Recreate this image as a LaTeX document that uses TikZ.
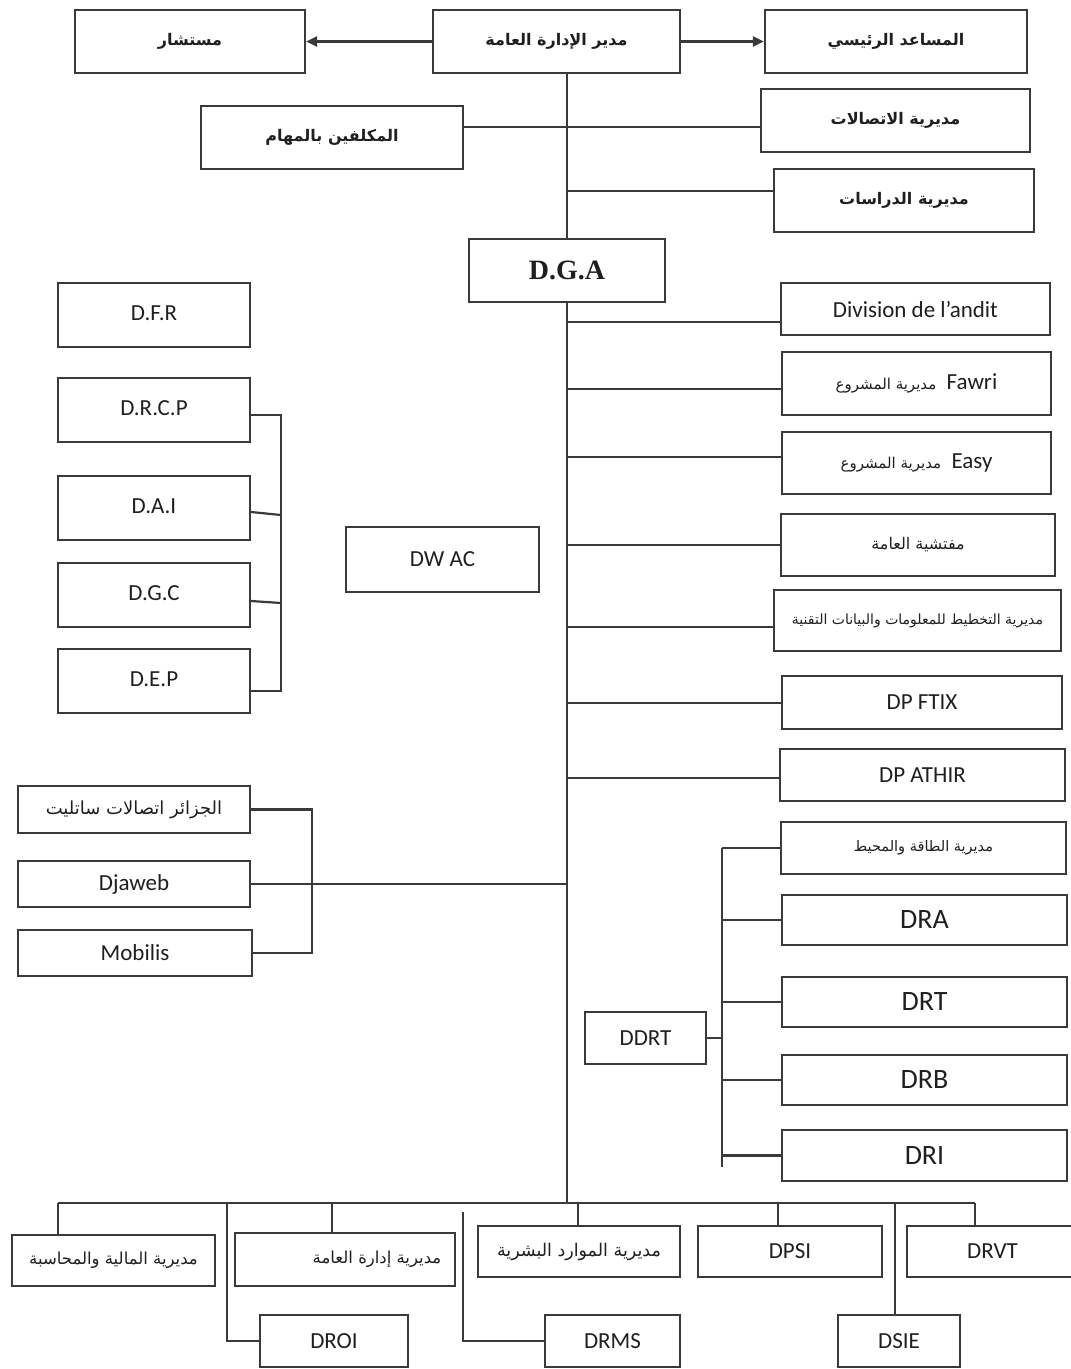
\documentclass[tikz,border=0pt]{standalone}
\usepackage{fontspec}
\usetikzlibrary{arrows.meta}
\setmainfont{Carlito}
\newfontfamily\arabicfont[Script=Arabic]{DejaVu Sans}
\newfontfamily\timesfont{Liberation Serif}
\TeXXeTstate=1
\newcommand\arb[1]{{\arabicfont\beginR #1\endR}}
\newcommand\bx[7][]{\node[box,#1,minimum width={#4-#2},minimum height={#6-#3}] (#5) at ({(#2+#4)/2},{(#3+#6)/2}) {#7};}
\definecolor{lc}{HTML}{3A3A3A}
\begin{document}
\begin{tikzpicture}[x=1pt,y=-1pt,
  box/.style={draw=lc,line width=2.2pt,inner sep=0pt,align=center,text=black!88},
  ln/.style={draw=lc,line width=2.2pt},
  arr/.style={ln,-{Triangle[length=11pt,width=10pt]}},
  latm/.style={font=\fontsize{23}{26}\selectfont},
  latb/.style={font=\fontsize{28}{30}\selectfont},
  arbig/.style={font=\fontsize{16}{20}\selectfont\bfseries},
  arsm/.style={font=\fontsize{16.5}{20}\selectfont},
  arxs/.style={font=\fontsize{14}{16}\selectfont}]
\useasboundingbox (0,0) rectangle (1071,1369);
% columns
\coordinate (trk) at (567,0);
\coordinate (bar) at (0,1203);
% top
\bx[arbig]{75}{10}{305}{mus}{73}{\arb{مستشار}}
\bx[arbig]{433}{10}{680}{dir}{73}{\arb{مدير الإدارة العامة}}
\bx[arbig]{765}{10}{1027}{asst}{73}{\arb{المساعد الرئيسي}}
\bx[arbig]{201}{106}{463}{mukal}{169}{\arb{المكلفين بالمهام}}
\bx[arbig]{761}{89}{1030}{comm}{152}{\arb{مديرية الاتصالات}}
\bx[arbig]{774}{169}{1034}{etud}{232}{\arb{مديرية الدراسات}}
\bx[font=\timesfont\bfseries\fontsize{28}{30}\selectfont]{469}{239}{665}{dga}{302}{D.G.A}
% left column
\bx[latm]{58}{283}{250}{dfr}{347}{\raisebox{4pt}{D.F.R}}
\bx[latm]{58}{378}{250}{drcp}{442}{\raisebox{4pt}{D.R.C.P}}
\bx[latm]{58}{476}{250}{dai}{540}{\raisebox{4pt}{D.A.I}}
\bx[latm]{58}{563}{250}{dgc}{627}{\raisebox{4pt}{D.G.C}}
\bx[latm]{58}{649}{250}{dep}{713}{\raisebox{4pt}{D.E.P}}
\bx[latm]{346}{527}{539}{dwac}{592}{DW AC}
\bx[font=\fontsize{18}{20}\selectfont]{18}{786}{250}{sat}{833}{\arb{الجزائر اتصالات ساتليت}}
\bx[latm]{18}{861}{250}{dja}{907}{Djaweb}
\bx[latm]{18}{930}{252}{mob}{976}{Mobilis}
% right column
\bx[latm]{781}{283}{1050}{div}{335}{Division de l’andit}
\bx[latm]{782}{352}{1051}{fawri}{415}{{\arabicfont\fontsize{15}{18}\selectfont\beginR مديرية المشروع\endR}\ \ Fawri}
\bx[latm]{782}{432}{1051}{easy}{494}{{\arabicfont\fontsize{15}{18}\selectfont\beginR مديرية المشروع\endR}\ \ Easy}
\bx[font=\fontsize{16}{18}\selectfont]{781}{514}{1055}{mufat}{576}{\arb{مفتشية العامة}}
\bx[arxs]{774}{590}{1061}{takh}{651}{\arb{مديرية التخطيط للمعلومات والبيانات التقنية}}
\bx[latm]{782}{676}{1062}{ftix}{729}{DP FTIX}
\bx[latm]{780}{749}{1065}{athir}{801}{DP ATHIR}
\bx[font=\fontsize{14.5}{17}\selectfont]{781}{822}{1066}{ene}{874}{\arb{مديرية الطاقة والمحيط}}
\bx[latb]{782}{895}{1067}{dra}{945}{\raisebox{-4pt}{DRA}}
\bx[latb]{782}{977}{1067}{drt}{1027}{\raisebox{-4pt}{DRT}}
\bx[latb]{782}{1055}{1067}{drb}{1105}{\raisebox{-4pt}{DRB}}
\bx[latb]{782}{1130}{1067}{dri}{1181}{\raisebox{-4pt}{DRI}}
\bx[latm]{585}{1012}{706}{ddrt}{1064}{DDRT}
% bottom
\bx[arsm]{12}{1235}{215}{fin}{1286}{\arb{مديرية المالية والمحاسبة}}
\bx[arsm]{235}{1233}{455}{idara}{1286}{\hspace*{64pt}\arb{مديرية إدارة العامة}}
\bx[font=\fontsize{17.5}{20}\selectfont]{478}{1226}{680}{rh}{1277}{\arb{مديرية الموارد البشرية}}
\bx[latm]{698}{1226}{882}{dpsi}{1277}{DPSI}
\bx[latm]{907}{1226}{1078}{drvt}{1277}{DRVT}
\bx[latm]{260}{1315}{408}{droi}{1367}{DROI}
\bx[latm]{545}{1315}{680}{drms}{1367}{DRMS}
\bx[latm]{838}{1315}{960}{dsie}{1367}{DSIE}
% helper coordinates
\coordinate (c127) at (0,127);
\coordinate (c191) at (0,191);
\coordinate (x312) at (312,0);
\coordinate (x281) at (281,0);
\coordinate (x722) at (722,0);
\coordinate (x58) at (58,0);
\coordinate (x227) at (227,0);
\coordinate (x332) at (332,0);
\coordinate (x463) at (463,0);
\coordinate (x578) at (578,0);
\coordinate (x778) at (778,0);
\coordinate (x895) at (895,0);
\coordinate (x975) at (975,0);
% connectors top
\draw[arr] (dir.west) -- (mus.east);
\draw[arr] (dir.east) -- (asst.west);
\draw[ln] (trk |- dir.south) -- (trk |- dga.north);
\draw[ln] (mukal.east |- c127) -- (comm.west |- c127);
\draw[ln] (trk |- c191) -- (etud.west |- c191);
% right branches
\draw[ln] (trk |- dga.south) -- (trk |- bar);
\foreach \n/\yy in {div/322,fawri/389,easy/457,mufat/545,takh/627,ftix/703,athir/778}
  \draw[ln] (trk |- 0,\yy) -- (\n.west |- 0,\yy);
% left bracket (D.R.C.P group)
\draw[ln] (drcp.east |- 0,415) -| (x281 |- 0,691) -- (dep.east |- 0,691);
\draw[ln] (dai.east |- 0,512) -- (x281 |- 0,515);
\draw[ln] (dgc.east |- 0,601) -- (x281 |- 0,603);
% satellites group
\draw[ln] (sat.east) -| (x312 |- mob.east) -- (mob.east);
\draw[ln] (dja.east) -- (trk |- dja.east);
% DDRT group
\draw[ln] (ddrt.east) -- (x722 |- ddrt.east);
\draw[ln] (x722 |- ene.west) -- (x722 |- 0,1167);
\foreach \n in {ene,dra,drt,drb,dri}
  \draw[ln] (x722 |- \n.west) -- (\n.west);
% bottom bar
\draw[ln] (x58 |- bar) -- (x975 |- bar);
\draw[ln] (x58 |- bar) -- (fin.north -| x58);
\draw[ln] (x227 |- bar) |- (droi.west);
\draw[ln] (x332 |- bar) -- (idara.north -| x332);
\draw[ln] (x463 |- 0,1212) |- (drms.west);
\draw[ln] (x578 |- bar) -- (rh.north -| x578);
\draw[ln] (x778 |- bar) -- (dpsi.north -| x778);
\draw[ln] (x895 |- bar) -- (dsie.north -| x895);
\draw[ln] (x975 |- bar) -- (drvt.north -| x975);
\end{tikzpicture}
\end{document}
